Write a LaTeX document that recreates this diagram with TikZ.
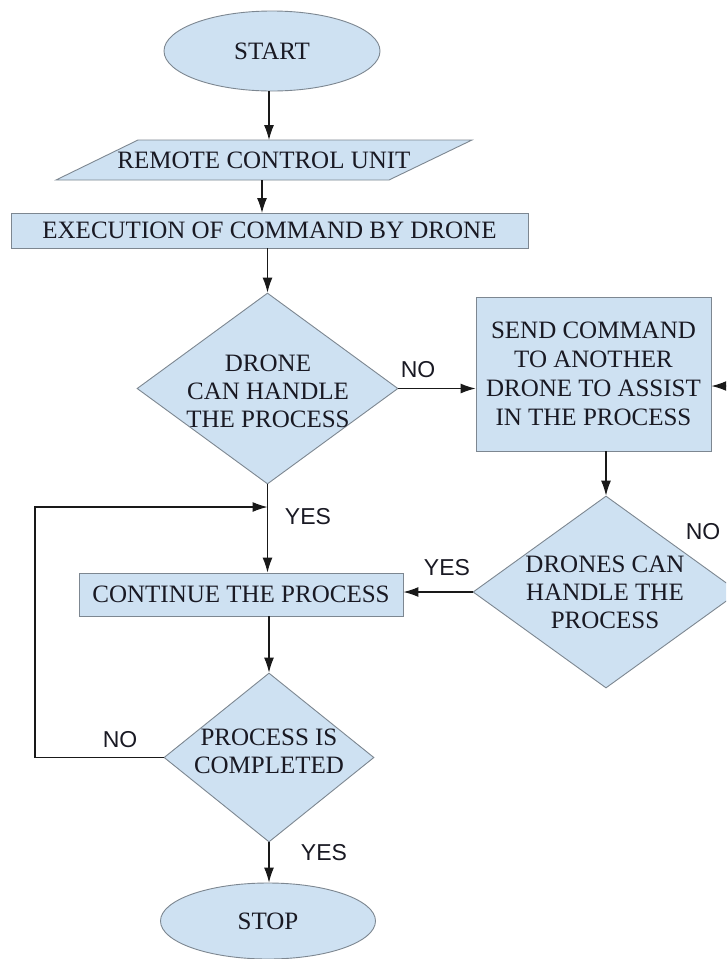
\documentclass[tikz,border=0pt]{standalone}
\usepackage{fontspec}
\setmainfont{Liberation Serif}
\newfontfamily\labfont{Liberation Sans}
\usetikzlibrary{shapes.geometric,arrows.meta}
\definecolor{boxfill}{RGB}{206,225,242}
\definecolor{boxline}{RGB}{125,135,145}
\definecolor{txt}{RGB}{25,25,35}
\tikzset{
  shp/.style={draw=boxline, fill=boxfill, line width=0.9pt, inner sep=0pt, text=txt,
    font=\fontsize{25}{29}\selectfont, align=center},
  boxn/.style={shp, rectangle},
  ell/.style={shp, ellipse},
  dia/.style={shp, diamond},
  dtext/.style={text=txt, font=\fontsize{25}{28}\selectfont, align=center, inner sep=0pt},
  conn/.style={line width=1.1pt, draw=black!90, -{Latex[length=15pt,width=10pt]}},
  lbl/.style={font=\labfont\fontsize{23}{26}\selectfont, text=txt, inner sep=0pt}
}
\begin{document}
\begin{tikzpicture}[x=1pt,y=-1pt]
\useasboundingbox (0,0) rectangle (726,959);
\clip (0,0) rectangle (726,959);
\fill[white] (0,0) rectangle (726,959);

% nodes
\node[ell, minimum width=216pt, minimum height=80pt] (start) at (272,51) {START};
\draw[draw=boxline, fill=boxfill, line width=0.9pt] (56,180) -- (138,140) -- (472,140) -- (389,180) -- cycle;
\node[text=txt, font=\fontsize{25}{29}\selectfont, inner sep=0pt, minimum width=333pt, minimum height=40pt] (rcu) at (264,160) {REMOTE CONTROL UNIT};
\node[boxn, minimum width=517pt, minimum height=35pt] (exe) at (269.5,230.5) {EXECUTION OF COMMAND BY DRONE};
\node[dia, minimum width=261pt, minimum height=191pt] (d1) at (267.5,388.5) {};
\node[dtext] (d1t) at (268,391) {DRONE\\CAN HANDLE\\THE PROCESS};
\node[boxn, minimum width=235pt, minimum height=154pt] (send) at (593.5,374) {SEND COMMAND\\TO ANOTHER\\DRONE TO ASSIST\\IN THE PROCESS};
\node[dia, minimum width=266pt, minimum height=192pt] (d2) at (606,592) {};
\node[dtext] (d2t) at (605,592) {DRONES CAN\\HANDLE THE\\PROCESS};
\node[boxn, minimum width=324pt, minimum height=43pt] (cont) at (241,594.5) {CONTINUE THE PROCESS};
\node[dia, minimum width=210pt, minimum height=169pt] (d3) at (269,757.5) {};
\node[dtext] (d3t) at (269,751) {PROCESS IS\\COMPLETED};
\node[ell, minimum width=215pt, minimum height=76pt] (stop) at (268,921) {STOP};

% labels
\node[lbl] (l1) at (418,370) {NO};
\node[lbl] (l2) at (308,517) {YES};
\node[lbl] (l3) at (447,568) {YES};
\node[lbl] (l4) at (703,532) {NO};
\node[lbl] (l5) at (120,740) {NO};
\node[lbl] (l6) at (324,853) {YES};

% coordinates for loops
\coordinate (loopL) at (35,507);
\coordinate (loopR) at (760,386);

% connectors
\draw[conn] ([xshift=-3pt]start.south) -- ([xshift=-3pt]start.south |- 0,140);
\draw[conn] (262,180) -- (262,213);
\draw[conn] (exe.south -| d1.north) -- (d1.north);
\draw[conn] (d1.east) -- (d1.east -| send.west);
\draw[conn] (send.south -| d2.north) -- (d2.north);
\draw[conn] (d2.west) -- (d2.west -| cont.east);
\draw[conn] (d1.south) -- (d1.south |- cont.north);
\draw[conn] (cont.south -| d3.north) -- (d3.north);
\draw[conn] (d3.west) -| (loopL) -- (loopL -| d1.south);
\draw[conn] (d3.south) -- (d3.south |- stop.north);
\draw[conn] (d2.east) -| (loopR) -- (loopR -| send.east);
\end{tikzpicture}
\end{document}
